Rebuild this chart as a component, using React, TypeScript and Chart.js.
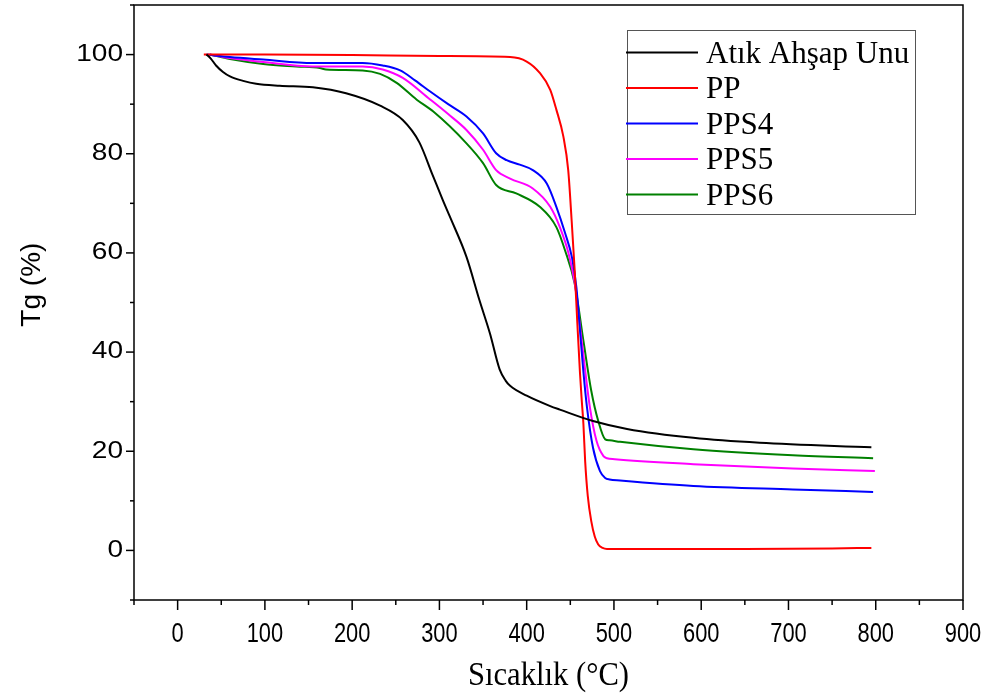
import React, { useEffect, useRef } from 'react';
import { Chart, registerables } from 'chart.js';

Chart.register(...registerables);

// ---- Data ----
const seriesNames = ['Atık Ahşap Unu', 'PP', 'PPS4', 'PPS5', 'PPS6'];
const seriesColors = ['#000000', '#ff0000', '#0000ff', '#ff00ff', '#008000'];

const woodTemps = [33, 38, 44, 52, 60, 75, 90, 117, 155, 193, 232, 258, 277, 292, 304, 312, 331, 346, 358, 369, 376, 381, 400, 427, 438, 476, 515, 591, 667, 795];
const woodTg = [100, 99.2, 97.8, 96.5, 95.6, 94.7, 94.1, 93.7, 93.4, 92.2, 89.7, 86.8, 82.3, 75.8, 70.6, 67.3, 59.2, 50.4, 43.7, 36.5, 34.2, 33.2, 31.2, 29.1, 28.4, 26.1, 24.5, 22.7, 21.7, 20.8];

const ppTemps = [30, 100, 200, 300, 381, 400, 415, 427, 434, 442, 447.6, 451.5, 455, 458, 461, 463, 465, 467, 470, 474, 478, 482, 487, 492, 550, 650, 750, 795];
const ppTg = [100, 100, 99.9, 99.7, 99.5, 98.6, 96.3, 92.9, 88.9, 83.5, 76.7, 66.6, 56.5, 46, 36, 30.5, 25.5, 18, 11, 5.9, 2.8, 1.2, 0.5, 0.3, 0.3, 0.3, 0.4, 0.5];

const pps4Temps = [33, 60, 98, 155, 212, 235, 255, 272, 289, 310, 331, 350, 365, 377, 392, 407, 423, 434, 444, 452, 457, 461, 465, 469, 476, 484, 490, 495, 507, 591, 705, 797];
const pps4Tg = [100, 99.5, 99, 98.3, 98.3, 97.8, 96.8, 94.8, 92.6, 90, 87.5, 84.1, 80.1, 78.7, 77.8, 76.7, 74, 69.3, 64, 59, 53, 44.5, 36, 29, 20.7, 16, 14.6, 14.3, 14.1, 13.0, 12.3, 11.8];

const pps5Temps = [37, 60, 98, 155, 212, 235, 258, 289, 310, 331, 350, 365, 381, 407, 427, 438, 448, 455, 463, 472.5, 480, 488, 492, 501, 591, 705, 799];
const pps5Tg = [100, 99.3, 98.5, 97.6, 97.6, 97, 95.3, 91, 88, 84.8, 80.8, 76.7, 75, 73, 69.3, 65.2, 59.9, 54, 42.3, 28.8, 22.1, 19, 18.6, 18.4, 17.4, 16.5, 16.0];

const pps6Temps = [37, 60, 98, 136, 163, 170, 212, 232, 251, 274, 293, 331, 350, 365, 388, 415, 434, 444, 455, 465, 474, 482, 490, 495, 507, 591, 705, 797];
const pps6Tg = [100, 99.1, 98.1, 97.6, 97.3, 97, 96.8, 96.1, 94.3, 90.9, 88.5, 82.1, 78.1, 73.7, 72, 69.3, 65.2, 60.5, 53.8, 42.3, 32.2, 26.1, 22.4, 22.2, 21.9, 20.4, 19.2, 18.6];

const seriesTemps = [woodTemps, ppTemps, pps4Temps, pps5Temps, pps6Temps];
const seriesTg = [woodTg, ppTg, pps4Tg, pps5Tg, pps6Tg];

// Axis settings
const xMin = -50;
const xMax = 900;
const xMinorStep = 50;
const xLabelStep = 100;
const yMin = -10;
const yMax = 110;
const yMinorStep = 10;
const yLabelStep = 20;

const xTitle = 'Sıcaklık (°C)';
const yTitle = 'Tg (%)';

function isMultiple(v: number, step: number) {
  const r = Math.abs(v % step);
  return r < 1e-6 || Math.abs(r - step) < 1e-6;
}

function drawScaledText(
  ctx: CanvasRenderingContext2D,
  text: string,
  x: number,
  y: number,
  sx: number,
  sy: number,
  align: CanvasTextAlign,
  baseline: CanvasTextBaseline
) {
  ctx.save();
  ctx.translate(x, y);
  ctx.scale(sx, sy);
  ctx.textAlign = align;
  ctx.textBaseline = baseline;
  ctx.fillText(text, 0, 0);
  ctx.restore();
}

const decorPlugin = {
  id: 'decor',
  afterDraw(chart: any) {
    const { ctx, chartArea: a, scales } = chart;
    const xs = scales.x;
    const ys = scales.y;
    ctx.save();
    ctx.fillStyle = '#000';
    ctx.strokeStyle = '#000';

    // frame
    ctx.lineWidth = 1.5;
    ctx.strokeRect(a.left, a.top, a.right - a.left, a.bottom - a.top);

    // y ticks + labels
    ctx.lineWidth = 1.5;
    ctx.font = '23px "Liberation Sans", Arial, sans-serif';
    ys.ticks.forEach((t: any) => {
      const p = ys.getPixelForValue(t.value);
      const major = isMultiple(t.value, yLabelStep);
      ctx.beginPath();
      ctx.moveTo(a.left - (major ? 8 : 4), p);
      ctx.lineTo(a.left, p);
      ctx.stroke();
      if (major && t.label) {
        drawScaledText(ctx, String(t.label), a.left - 11, p, 1.22, 1, 'right', 'middle');
      }
    });

    // x ticks + labels
    ctx.font = '28px "Liberation Sans", Arial, sans-serif';
    xs.ticks.forEach((t: any) => {
      const p = xs.getPixelForValue(t.value);
      const major = isMultiple(t.value, xLabelStep);
      ctx.beginPath();
      ctx.moveTo(p, a.bottom);
      ctx.lineTo(p, a.bottom + (major ? 10 : 5));
      ctx.stroke();
      if (major && t.label) {
        drawScaledText(ctx, String(t.label), p, a.bottom + 42, 0.78, 1, 'center', 'alphabetic');
      }
    });

    // axis titles
    ctx.font = '34px "Liberation Serif", "Times New Roman", serif';
    drawScaledText(ctx, xTitle, (a.left + a.right) / 2, a.bottom + 85, 0.9, 1, 'center', 'alphabetic');

    ctx.save();
    ctx.translate(32, a.top + (a.bottom - a.top) * 0.47);
    ctx.rotate(-Math.PI / 2);
    ctx.font = '28px "Liberation Sans", Arial, sans-serif';
    ctx.textAlign = 'center';
    ctx.textBaseline = 'middle';
    ctx.fillText(yTitle, 0, 0);
    ctx.restore();

    // legend
    const boxL = 627;
    const boxT = 30;
    const boxR = 915;
    const boxB = 214;
    ctx.lineWidth = 1;
    ctx.strokeStyle = '#555';
    ctx.strokeRect(boxL + 0.5, boxT + 0.5, boxR - boxL, boxB - boxT);
    ctx.font = '31px "Liberation Serif", "Times New Roman", serif';
    ctx.textAlign = 'left';
    ctx.textBaseline = 'alphabetic';
    chart.data.datasets.forEach((ds: any, i: number) => {
      const ly = 52.5 + i * 35.5;
      ctx.strokeStyle = ds.borderColor;
      ctx.lineWidth = 2;
      ctx.beginPath();
      ctx.moveTo(boxL - 1, ly);
      ctx.lineTo(698, ly);
      ctx.stroke();
      ctx.fillStyle = '#000';
      ctx.fillText(ds.label, 706, ly + 10);
    });
    ctx.restore();
  },
};

export default function App() {
  const canvasRef = useRef<HTMLCanvasElement | null>(null);

  useEffect(() => {
    if (!canvasRef.current) return;
    const datasets = seriesNames.map((name, i) => ({
      label: name,
      data: seriesTemps[i].map((t, j) => ({ x: t, y: seriesTg[i][j] })),
      borderColor: seriesColors[i],
      backgroundColor: seriesColors[i],
      borderWidth: 2,
      pointRadius: 0,
      cubicInterpolationMode: 'monotone' as const,
      fill: false,
    }));

    const chart = new Chart(canvasRef.current, {
      type: 'line',
      data: { datasets },
      options: {
        animation: false,
        responsive: false,
        maintainAspectRatio: false,
        layout: { padding: { top: 5, right: 29, left: 0, bottom: 0 } },
        plugins: {
          legend: { display: false },
          tooltip: { enabled: false },
        },
        scales: {
          x: {
            type: 'linear',
            min: xMin,
            max: xMax,
            grid: { display: false },
            border: { display: false },
            ticks: {
              display: false,
              stepSize: xMinorStep,
              callback: (v: any) => (isMultiple(Number(v), xLabelStep) ? String(v) : ''),
            },
            afterFit: (s: any) => {
              s.height = 98;
            },
          },
          y: {
            type: 'linear',
            min: yMin,
            max: yMax,
            grid: { display: false },
            border: { display: false },
            ticks: {
              display: false,
              stepSize: yMinorStep,
              callback: (v: any) => (isMultiple(Number(v), yLabelStep) ? String(v) : ''),
            },
            afterFit: (s: any) => {
              s.width = 134;
            },
          },
        },
      },
      plugins: [decorPlugin],
    });
    return () => chart.destroy();
  }, []);

  return (
    <div style={{ position: 'absolute', left: 0, top: 0, width: 992, height: 698, background: '#fff' }}>
      <canvas ref={canvasRef} width={992} height={698} style={{ width: 992, height: 698 }} />
    </div>
  );
}
